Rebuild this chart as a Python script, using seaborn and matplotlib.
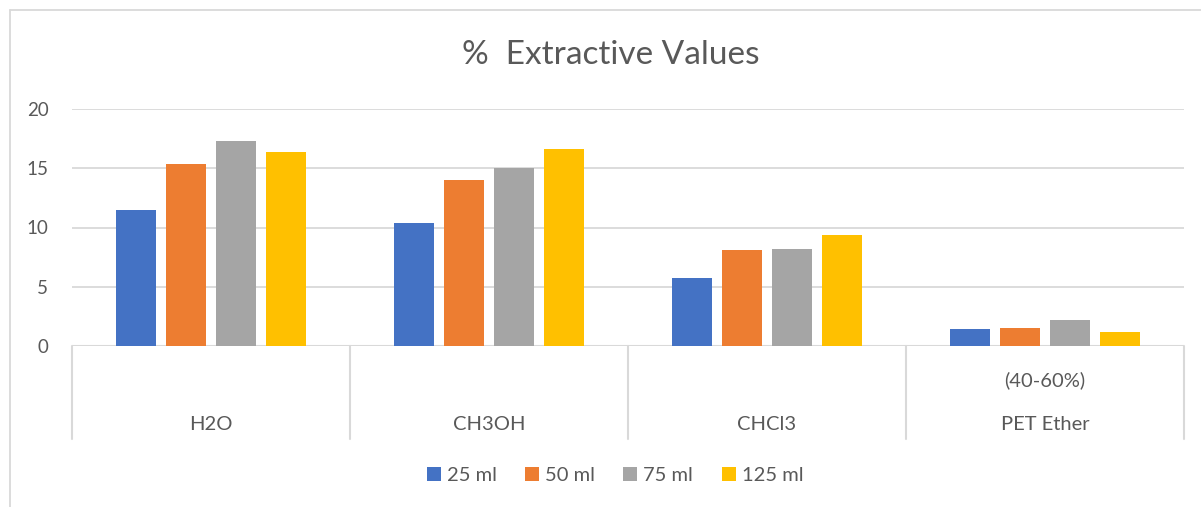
import matplotlib
matplotlib.use("Agg")
import matplotlib.pyplot as plt
from matplotlib.lines import Line2D
import matplotlib.transforms as mtransforms
import seaborn as sns
import pandas as pd

# Solvents (category axis) and extraction volumes (series)
solvents = ["H2O", "CH3OH", "CHCl3", "PET Ether (40-60%)"]
solvent_lines = [["H2O"], ["CH3OH"], ["CHCl3"], ["(40-60%)", "PET Ether"]]
volumes = ["25 ml", "50 ml", "75 ml", "125 ml"]

vals_25 = [11.5, 10.4, 5.7, 1.4]
vals_50 = [15.4, 14.0, 8.1, 1.5]
vals_75 = [17.3, 15.0, 8.2, 2.2]
vals_125 = [16.4, 16.6, 9.4, 1.2]

yticks = [0, 5, 10, 15, 20]
title = "%  Extractive Values"

colors = ["#4472C4", "#ED7D31", "#A5A5A5", "#FFC000"]
grid_c = "#D9D9D9"
text_c = "#595959"

rows = []
for vol, series in zip(volumes, [vals_25, vals_50, vals_75, vals_125]):
    for sol, v in zip(solvents, series):
        rows.append({"solvent": sol, "volume": vol, "value": v})
df = pd.DataFrame(rows)

sns.set_style("white")
plt.rcParams["font.family"] = ["Lato", "DejaVu Sans"]

W, H = 1201, 507
fig = plt.figure(figsize=(W / 100, H / 100), dpi=100)
ax = fig.add_axes([72 / W, 1 - 346 / H, (1184 - 72) / W, (346 - 109) / H])

sns.barplot(data=df, x="solvent", y="value", hue="volume", order=solvents,
            hue_order=volumes, palette=colors, saturation=1, width=0.72, gap=0.21,
            linewidth=0, legend=False, ax=ax, zorder=3)

ax.set_ylim(0, 20)
ax.set_xlim(-0.5, len(solvents) - 0.5)
ax.set_yticks(yticks)
ax.set_yticklabels([str(t) for t in yticks])
ax.yaxis.grid(True, color=grid_c, linewidth=1.3, zorder=0)
ax.set_axisbelow(True)
ax.tick_params(axis="y", length=0, pad=17, labelsize=13.5, labelcolor=text_c)
ax.set_xticks([])
ax.set_xlabel("")
ax.set_ylabel("")
for s in ax.spines.values():
    s.set_visible(False)

# category-axis baseline and group dividers
ax.axhline(0, color=grid_c, linewidth=1.5, zorder=2)
trans = mtransforms.blended_transform_factory(ax.transData, ax.transAxes)
px = 1 / (346 - 109)
for xb in [i - 0.5 for i in range(len(solvents) + 1)]:
    ax.add_line(Line2D([xb, xb], [0, -93 * px], transform=trans, color=grid_c,
                       linewidth=1.5, clip_on=False))

# category labels (multi-line labels stack upward from the bottom line)
for i, lines in enumerate(solvent_lines):
    for j, line in enumerate(reversed(lines)):
        ax.text(i, -(78 - 44 * j) * px, line, transform=trans, ha="center",
                va="center", fontsize=14.5, color=text_c)

fig.text(611 / W, 1 - 55 / H, title, ha="center", va="center", fontsize=24,
         color=text_c)

handles = [Line2D([], [], marker="s", linestyle="none", markersize=10.5,
                  markerfacecolor=c, markeredgewidth=0) for c in colors]
fig.legend(handles, volumes, loc="center", bbox_to_anchor=(615 / W, 1 - 475 / H),
           ncol=4, frameon=False, fontsize=14.5, labelcolor=text_c,
           handlelength=0.7, handletextpad=0.3, columnspacing=1.4)

# chart-area border (top and left edges visible)
fig.add_artist(Line2D([9.5 / W, 9.5 / W], [0, 1 - 10 / H], transform=fig.transFigure,
                      color=grid_c, linewidth=1.3))
fig.add_artist(Line2D([9.5 / W, 1], [1 - 10 / H, 1 - 10 / H], transform=fig.transFigure,
                      color=grid_c, linewidth=1.3))

fig.savefig("out.png", dpi=100, facecolor="white")
